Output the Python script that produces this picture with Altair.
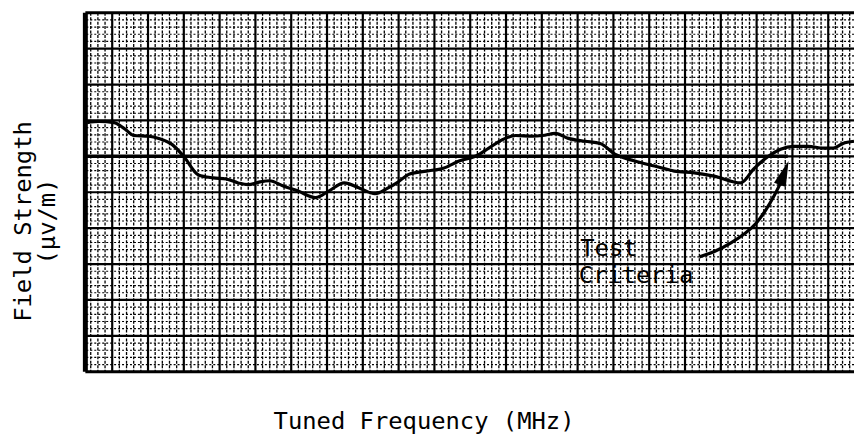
import altair as alt
import pandas as pd

# ---- data (x: chart divisions from left border, y: chart divisions from bottom) ----
curve_x = [0.05, 0.39, 0.80, 1.08, 1.36, 1.77, 2.05, 2.38, 2.74, 3.16, 3.57, 3.93, 4.27, 4.54,
           4.88, 5.15, 5.51, 5.93, 6.43, 6.81, 7.23, 7.65, 8.09, 8.42, 8.70, 9.06, 9.53, 10.00,
           10.44, 10.91, 11.27, 11.66, 12.02, 12.49, 12.77, 13.13, 13.49, 13.96, 14.38, 14.79,
           15.35, 15.90, 16.45, 17.01, 17.56, 18.31, 18.67, 19.09, 19.42, 19.78, 20.19, 20.61,
           20.89, 21.16, 21.47]
curve_y = [6.94, 6.97, 6.94, 6.78, 6.58, 6.56, 6.50, 6.36, 6.01, 5.48, 5.40, 5.37, 5.26, 5.21,
           5.29, 5.32, 5.18, 5.04, 4.85, 5.04, 5.26, 5.12, 4.96, 5.10, 5.26, 5.51, 5.59, 5.67,
           5.87, 6.01, 6.23, 6.47, 6.58, 6.56, 6.58, 6.64, 6.50, 6.42, 6.36, 6.06,
           5.87, 5.73, 5.59, 5.54, 5.45, 5.26, 5.65, 6.01, 6.20, 6.28, 6.28, 6.23,
           6.23, 6.36, 6.42]

criteria_level = [6.0]
criteria_start = [0.0]
criteria_end = [19.62]

arrow_x = [17.15, 17.56, 18.03, 18.45, 18.75, 19.00, 19.22, 19.42]
arrow_y = [3.20, 3.33, 3.58, 3.86, 4.13, 4.49, 4.85, 5.26]
head_x = [19.50]
head_y = [5.48]

label_text = ["Test", "Criteria"]
label_x = [13.82, 13.78]
label_y = [3.22, 2.48]

x_domain = [0, 21.47]
y_domain = [0, 10]
x_major = [0.75 + k for k in range(21)]
x_minor = [round(0.15 + 0.2 * k, 2) for k in range(107) if k % 5 != 3]
y_major = [k for k in range(1, 10)]
y_minor = [round(0.2 * k, 2) for k in range(51) if k % 5 != 0]
border_y = [0, 10]
border_x = [0]

x_title = "Tuned Frequency (MHz)"
y_title = ["Field Strength", "(\u03bcv/m)"]

# ---- chart ----
xs = alt.Scale(domain=x_domain, nice=False, zero=False)
ys = alt.Scale(domain=y_domain, nice=False, zero=False)
ax_x = alt.Axis(title=x_title, orient="bottom", titleX=341, titleY=57,
                titleAlign="center", titleBaseline="alphabetic")
ax_y = alt.Axis(title=y_title, orient="left", titleX=-55, titleY=210, titleAngle=270,
                titleAlign="center", titleBaseline="alphabetic", titleLineHeight=24)

X = lambda f: alt.X(f, type="quantitative", scale=xs, axis=ax_x)
Y = lambda f: alt.Y(f, type="quantitative", scale=ys, axis=ax_y)

vminor = alt.Chart(pd.DataFrame({"x": x_minor})).mark_rule(
    color="black", strokeWidth=1.3, strokeDash=[3, 1.5]).encode(x=X("x"))
hminor = alt.Chart(pd.DataFrame({"y": y_minor})).mark_rule(
    color="black", strokeWidth=1.2, strokeDash=[2, 2]).encode(y=Y("y"))
vmajor = alt.Chart(pd.DataFrame({"x": x_major})).mark_rule(
    color="black", strokeWidth=2.2).encode(x=X("x"))
hmajor = alt.Chart(pd.DataFrame({"y": y_major})).mark_rule(
    color="black", strokeWidth=2.2).encode(y=Y("y"))
hborder = alt.Chart(pd.DataFrame({"y": border_y})).mark_rule(
    color="black", strokeWidth=3).encode(y=Y("y"))
vborder = alt.Chart(pd.DataFrame({"x": border_x})).mark_rule(
    color="black", strokeWidth=5).encode(x=X("x"))

criteria = alt.Chart(pd.DataFrame({"x": criteria_start, "x2": criteria_end, "y": criteria_level})).mark_rule(
    color="black", strokeWidth=3.5).encode(x=X("x"), x2="x2:Q", y=Y("y"))

curve = alt.Chart(pd.DataFrame({"x": curve_x, "y": curve_y, "o": list(range(len(curve_x)))})).mark_line(
    color="black", strokeWidth=3.2, interpolate="monotone").encode(x=X("x"), y=Y("y"), order="o:Q")

arrow = alt.Chart(pd.DataFrame({"x": arrow_x, "y": arrow_y, "o": list(range(len(arrow_x)))})).mark_line(
    color="black", strokeWidth=3.2, interpolate="basis").encode(x=X("x"), y=Y("y"), order="o:Q")

head = alt.Chart(pd.DataFrame({"x": head_x, "y": head_y})).mark_point(
    shape="M0,-1L0.42,0.7L-0.42,0.7Z", filled=True, color="black", opacity=1,
    size=900, angle=20).encode(x=X("x"), y=Y("y"))

labels = alt.Chart(pd.DataFrame({"x": label_x, "y": label_y, "t": label_text})).mark_text(
    align="left", baseline="alphabetic", font="DejaVu Sans Mono", fontSize=24,
    color="black").encode(x=X("x"), y=Y("y"), text="t:N")

chart = alt.layer(
    vminor, hminor, vmajor, hmajor, hborder, vborder, criteria, curve, arrow, head, labels
).properties(
    width=775, height=362,
    autosize=alt.AutoSizeParams(type="none"),
    padding={"left": 78, "top": 3, "right": 0, "bottom": 64},
    background="white",
).configure_view(stroke=None).configure_axis(
    labels=False, ticks=False, domain=False, grid=False,
    titleFont="DejaVu Sans Mono", titleFontSize=24, titleFontWeight="normal",
    titleColor="black",
)

chart.save("out.html", embed_options={"renderer": "svg", "actions": False})
